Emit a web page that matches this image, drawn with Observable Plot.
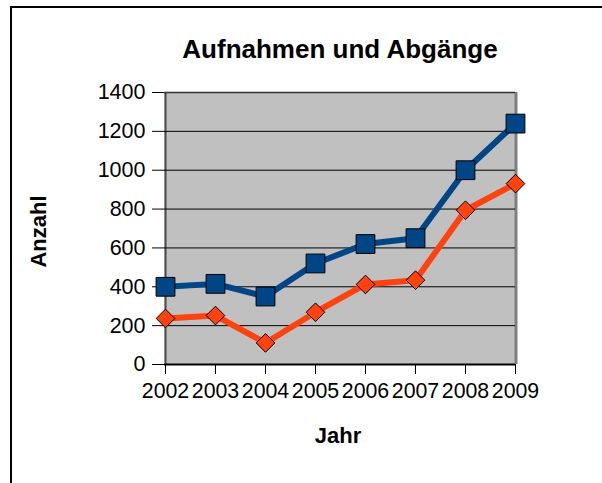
<!DOCTYPE html>
<html><head><meta charset="utf-8">
<script src="https://cdn.jsdelivr.net/npm/d3@7"></script>
<script src="https://cdn.jsdelivr.net/npm/@observablehq/plot@0.6"></script>
<style>
body{margin:0;background:#fff;}
#wrap{position:relative;width:602px;height:483px;overflow:hidden;}
#border{position:absolute;left:10px;top:6px;width:700px;height:600px;border-left:2px solid #000;border-top:2px solid #000;}
#chart{position:absolute;left:0;top:0;}
</style></head><body>
<div id="wrap"><div id="border"></div><div id="chart"></div></div>
<script>
const years = ["2002","2003","2004","2005","2006","2007","2008","2009"];
const aufnahmen = [400, 415, 350, 520, 620, 650, 1000, 1240];
const abgaenge = [237, 252, 111, 269, 412, 434, 794, 931];
const yTicks = [0, 200, 400, 600, 800, 1000, 1200, 1400];
const title = "Aufnahmen und Abgänge";
const xLabel = "Jahr";
const yLabel = "Anzahl";

const dataA = years.map((y, i) => ({year: y, value: aufnahmen[i]}));
const dataB = years.map((y, i) => ({year: y, value: abgaenge[i]}));

const chart = Plot.plot({
  width: 602,
  height: 483,
  marginLeft: 164,
  marginRight: 87,
  marginTop: 92,
  marginBottom: 119,
  style: {fontFamily: "'Liberation Sans', Arial, sans-serif", fontSize: "21px", color: "#000", background: "transparent"},
  x: {type: "point", domain: years, padding: 0, label: null},
  y: {domain: [0, 1400], label: null},
  marks: [
    Plot.frame({fill: "#c0c0c0", stroke: null}),
    Plot.ruleX([years[years.length - 1]], {stroke: "#7f7f7f", strokeWidth: 3, dx: 0.5}),
    Plot.ruleX([years[0]], {stroke: "#4a4a4a", strokeWidth: 2}),
    Plot.ruleY(yTicks.slice(1), {stroke: "#000", strokeWidth: 1}),
    Plot.ruleY([1400], {stroke: "#333", strokeWidth: 1.5}),
    Plot.ruleY([0], {stroke: "#000", strokeWidth: 2}),
    Plot.axisY({ticks: yTicks, tickFormat: d => String(d), tickSize: 12, tickPadding: 7, fontSize: 21.5, label: null}),
    Plot.axisX({tickSize: 10, tickPadding: 8, fontSize: 21.3, label: null}),
    Plot.line(dataA, {x: "year", y: "value", stroke: "#004586", strokeWidth: 6}),
    Plot.line(dataB, {x: "year", y: "value", stroke: "#ff420e", strokeWidth: 6}),
    Plot.dot(dataA, {x: "year", y: "value", symbol: "square", r: 10.6, fill: "#004586", stroke: "#000", strokeWidth: 1}),
    Plot.dot(dataB, {x: "year", y: "value", symbol: "diamond2", r: 8.4, fill: "#ff420e", stroke: "#000", strokeWidth: 1}),
    Plot.text([title], {frameAnchor: "top", dy: -43, fontSize: 26, fontWeight: "bold", textAnchor: "middle", lineAnchor: "middle"}),
    Plot.text([yLabel], {frameAnchor: "left", dx: -126, dy: 3, rotate: -90, fontSize: 22, fontWeight: "bold", textAnchor: "middle", lineAnchor: "middle"}),
    Plot.text([xLabel], {frameAnchor: "bottom", dy: 71, dx: -2, fontSize: 22, fontWeight: "bold", textAnchor: "middle", lineAnchor: "middle"})
  ]
});
document.getElementById("chart").appendChild(chart);
</script>
</body></html>
